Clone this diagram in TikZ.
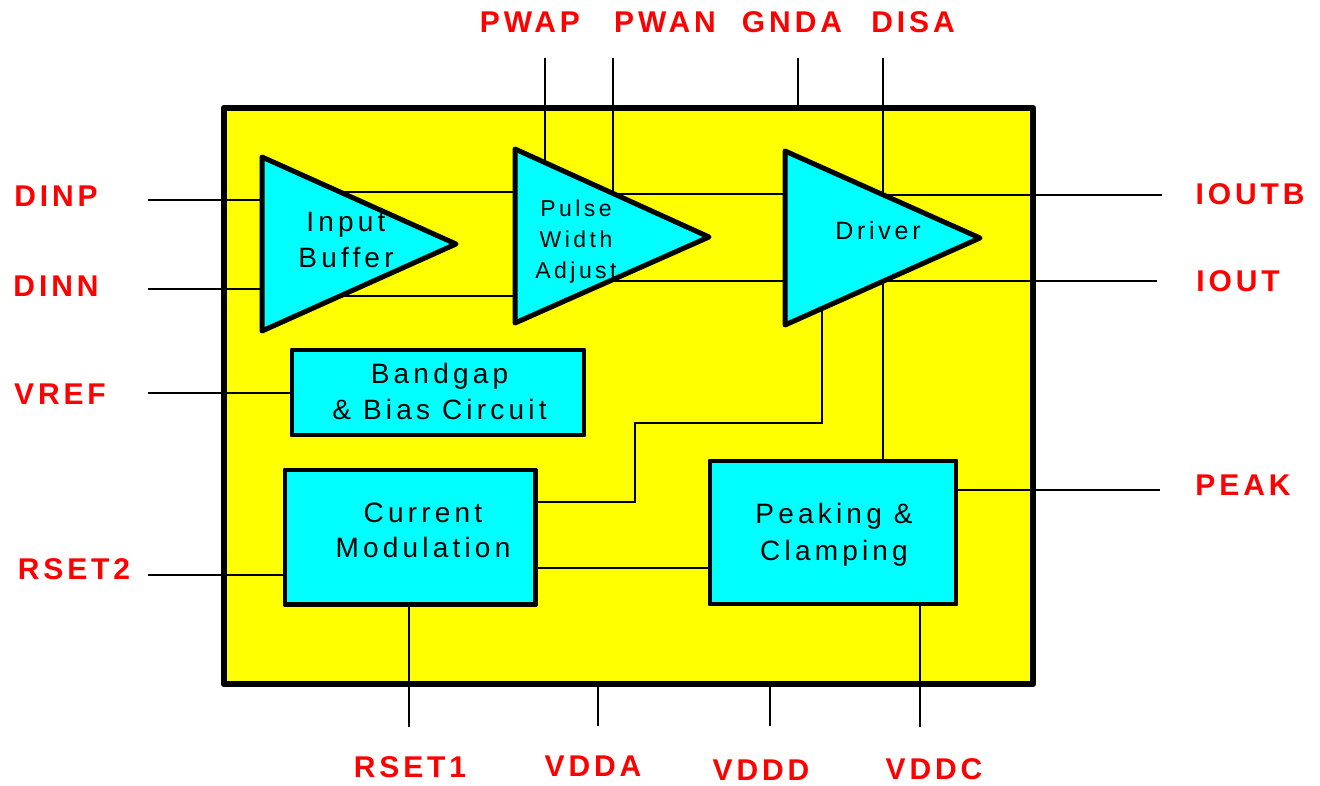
\documentclass[tikz,border=0pt]{standalone}
\usepackage{fontspec}
\setmainfont{Liberation Sans}
\newfontfamily\boxfont{Liberation Sans}[LetterSpace=15]
\newfontfamily\pinfont{Liberation Sans}[LetterSpace=13]
\definecolor{chipyellow}{RGB}{255,255,0}
\definecolor{blockcyan}{RGB}{0,255,255}
\definecolor{pinred}{RGB}{255,0,0}
\begin{document}
\begin{tikzpicture}[x=1pt,y=-1pt,
  chip/.style={draw=black,fill=chipyellow,line width=6.5pt,line join=round},
  amp/.style={draw=black,fill=blockcyan,line width=5pt,line join=round},
  blk/.style={draw=black,fill=blockcyan,line width=4.5pt,line join=round,inner sep=0pt,outer sep=0pt},
  wire/.style={draw=black,line width=2pt},
  pin/.style={inner sep=0pt,text=pinred,font=\pinfont\bfseries\fontsize{30}{36}\selectfont},
  boxtxt/.style={inner sep=0pt,align=center,text=black}
]
\useasboundingbox (0,0) rectangle (1320,785);

% chip outline
\draw[chip] (224,108) rectangle (1033,684);

% triangle corners
\coordinate (ibT) at (262,157); \coordinate (ibA) at (456,244); \coordinate (ibB) at (262,331);
\coordinate (pwT) at (515,149); \coordinate (pwA) at (709,237); \coordinate (pwB) at (515,323);
\coordinate (drT) at (785,151); \coordinate (drA) at (980,238); \coordinate (drB) at (785,325);

% rectangular blocks
\node[blk,minimum width=292pt,minimum height=85pt] (bg) at (438,392.5) {};
\node[blk,minimum width=250.5pt,minimum height=134.5pt] (cm) at (410.25,537.25) {};
\node[blk,minimum width=246pt,minimum height=143pt] (pk) at (833,532.5) {};

% edge points on triangles
\coordinate (ibTo) at (340,192);   \coordinate (ibBo) at (340,296);
\coordinate (pwIt) at (515,192);   \coordinate (pwIb) at (515,296);
\coordinate (pwP)  at (545,162.6); \coordinate (pwN)  at (613,193.5);
\coordinate (pwBo) at (609.7,281);
\coordinate (drIt) at (785,193.5); \coordinate (drIb) at (785,281);
\coordinate (drTo) at (883,194.7); \coordinate (drBo) at (883,281.3);
\coordinate (drM)  at (822,308.5);
\coordinate (ibIp) at (262,200);   \coordinate (ibIn) at (262,289);

% free pin ends
\coordinate (eDINP) at (148,200); \coordinate (eDINN) at (148,289);
\coordinate (eVREF) at (148,392.5); \coordinate (eRSET2) at (148,575);
\coordinate (ePWAP) at (545,58); \coordinate (ePWAN) at (613,58);
\coordinate (eGNDA) at (798,58); \coordinate (eDISA) at (883,58);
\coordinate (eIOUTB) at (1162,194.7); \coordinate (eIOUT) at (1157,281.3);
\coordinate (ePEAK) at (1160,490);
\coordinate (eRSET1) at (409,727); \coordinate (eVDDA) at (598,725.5);
\coordinate (eVDDD) at (770,725.5); \coordinate (eVDDC) at (920,727);
\coordinate (gndaIn) at (798,108); \coordinate (vddaIn) at (598,684); \coordinate (vdddIn) at (770,684);
\coordinate (bendA) at (822,423); \coordinate (bendB) at (635,423); \coordinate (bendC) at (635,502);

% wires
\draw[wire] (eDINP) -- (ibIp);
\draw[wire] (eDINN) -- (ibIn);
\draw[wire] (eVREF) -- (bg.west);
\draw[wire] (eRSET2) -- (eRSET2 -| cm.west);
\draw[wire] (ibTo) -- (pwIt);
\draw[wire] (ibBo) -- (pwIb);
\draw[wire] (ePWAP) -- (pwP);
\draw[wire] (ePWAN) -- (pwN) -- (drIt);
\draw[wire] (pwBo) -- (drIb);
\draw[wire] (eGNDA) -- (gndaIn);
\draw[wire] (eDISA) -- (drTo);
\draw[wire] (drTo) -- (eIOUTB);
\draw[wire] (drBo) -- (eIOUT);
\draw[wire] (drBo) -- (drBo |- pk.north);
\draw[wire] (drM) -- (bendA) -- (bendB) -- (bendC) -- (bendC -| cm.east);
\draw[wire] (cm.east |- 0,568) -- (pk.west |- 0,568);
\draw[wire] (pk.east |- ePEAK) -- (ePEAK);
\draw[wire] (cm.south -| eRSET1) -- (eRSET1);
\draw[wire] (vddaIn) -- (eVDDA);
\draw[wire] (vdddIn) -- (eVDDD);
\draw[wire] (pk.south -| eVDDC) -- (eVDDC);

% amplifiers
\draw[amp] (ibT) -- (ibA) -- (ibB) -- cycle;
\draw[amp] (pwT) -- (pwA) -- (pwB) -- cycle;
\draw[amp] (drT) -- (drA) -- (drB) -- cycle;
% redraw rectangles on top
\node[blk,minimum width=292pt,minimum height=85pt] (bgF) at (bg) {};
\node[blk,minimum width=250.5pt,minimum height=134.5pt] (cmF) at (cm) {};
\node[blk,minimum width=246pt,minimum height=143pt] (pkF) at (pk) {};

% block texts
\node[boxtxt,font=\boxfont\fontsize{28}{36.6}\selectfont] (tIB) at (346,240) {Input\\Buffer};
\node[boxtxt,font=\boxfont\fontsize{23}{31}\selectfont] (tPW) at (576,241.2) {Pulse\\Width\\Adjust};
\node[boxtxt,font=\boxfont\fontsize{25}{30}\selectfont] (tDR) at (878,230.8) {Driver};
\node[boxtxt,font=\boxfont\fontsize{28}{36}\selectfont] (tBG) at (439.5,391.3) {Bandgap\\\& Bias Circuit};
\node[boxtxt,font=\boxfont\fontsize{28}{35}\selectfont] (tCM) at (423,530.5) {Current\\Modulation};
\node[boxtxt,font=\boxfont\fontsize{28}{36.7}\selectfont] (tPK) at (834,534.6) {Peaking \&\\Clamping};

% pin labels
\node[pin] (lDINP) at (56,196) {DINP};
\node[pin] (lDINN) at (56,286) {DINN};
\node[pin] (lVREF) at (60,394) {VREF};
\node[pin] (lRSET2) at (74,569) {RSET2};
\node[pin] (lIOUTB) at (1250,194) {IOUTB};
\node[pin] (lIOUT) at (1238,281) {IOUT};
\node[pin] (lPEAK) at (1243,485) {PEAK};
\node[pin] (lPWAP) at (530,22) {PWAP};
\node[pin] (lPWAN) at (665,22) {PWAN};
\node[pin] (lGNDA) at (792,22) {GNDA};
\node[pin] (lDISA) at (913,22) {DISA};
\node[pin] (lRSET1) at (410,767) {RSET1};
\node[pin] (lVDDA) at (593,766) {VDDA};
\node[pin] (lVDDD) at (761,770) {VDDD};
\node[pin] (lVDDC) at (934,769) {VDDC};
\end{tikzpicture}
\end{document}
